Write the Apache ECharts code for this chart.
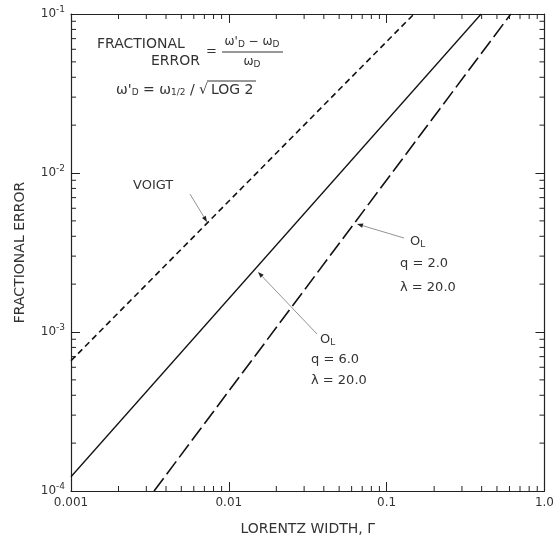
<!DOCTYPE html>
<html>
<head>
<meta charset="utf-8">
<script src="https://cdn.jsdelivr.net/npm/echarts@6/dist/echarts.min.js"></script>
<style>
  html, body { margin: 0; background: #fff; }
  #main { width: 557px; height: 541px; }
</style>
</head>
<body>
<div id="main"></div>
<script>
// values (log-log, straight lines -> endpoints)
const voigtX = [0.001, 0.149];
const voigtY = [0.00066, 0.1];
const solidX = [0.001, 0.397];   // q = 6.0, lambda = 20.0
const solidY = [0.000123, 0.1];
const dashX = [0.00336, 0.612];  // q = 2.0, lambda = 20.0
const dashY = [0.0001, 0.1];

const xTickLabels = { "-3": "0.001", "-2": "0.01", "-1": "0.1", "0": "1.0" };
const yTickExp = { "-4": "-4", "-3": "-3", "-2": "-2", "-1": "-1" };

// minor tick positions 2..9 per decade
const xMinor = [];
const yMinor = [];
[-3, -2, -1].forEach(function (k) {
  for (let m = 2; m <= 9; m++) xMinor.push(m * Math.pow(10, k));
});
[-4, -3, -2].forEach(function (k) {
  for (let m = 2; m <= 9; m++) yMinor.push(m * Math.pow(10, k));
});

const font = "DejaVu Sans";
const ink = "#222";
const txt = "#333";

function pairs(xs, ys) {
  return xs.map(function (x, i) { return [x, ys[i]]; });
}

function arrow(x1, y1, x2, y2) {
  // thin leader line with small head at (x2, y2)
  const a = Math.atan2(y2 - y1, x2 - x1);
  const L = 6, W = 2.2;
  const bx = x2 - L * Math.cos(a), by = y2 - L * Math.sin(a);
  return [
    { type: "line", shape: { x1: x1, y1: y1, x2: bx, y2: by }, style: { stroke: "#777", lineWidth: 0.8 } },
    { type: "polygon", shape: { points: [[x2, y2], [bx + W * Math.sin(a), by - W * Math.cos(a)], [bx - W * Math.sin(a), by + W * Math.cos(a)]] }, style: { fill: "#222" } }
  ];
}

const sup = { fontSize: 9, fontFamily: font, color: txt, padding: [0, 0, 8, 0] };

function label(x, y, text, opts) {
  return {
    type: "text", x: x, y: y,
    style: Object.assign({
      text: text, fontFamily: font, fontSize: 13, fill: txt,
      verticalAlign: "middle",
      rich: { s: { fontSize: 9, fontFamily: font, fill: txt, verticalAlign: "bottom", padding: [6, 0, 0, 0] } }
    }, opts || {})
  };
}

const chart = echarts.init(document.getElementById("main"));

const tickStyle = { show: true, inside: true, length: 9, lineStyle: { color: ink, width: 1 } };

const option = {
  animation: false,
  backgroundColor: "#fff",
  grid: { left: 71, right: 8, top: 14, bottom: 50, containLabel: false },
  xAxis: [
    {
      type: "log", logBase: 10, min: 0.001, max: 1, position: "bottom",
      name: "LORENTZ WIDTH, Γ", nameLocation: "middle", nameGap: 31,
      nameTextStyle: { fontFamily: font, fontSize: 14, color: txt },
      axisLine: { show: true, lineStyle: { color: ink, width: 1.2 } },
      axisTick: tickStyle,
      splitLine: { show: false },
      axisLabel: {
        fontFamily: font, fontSize: 12, color: txt, margin: 6,
        formatter: function (v) { return xTickLabels[String(Math.round(Math.log10(v)))] || ""; }
      }
    },
    {
      type: "log", logBase: 10, min: 0.001, max: 1, position: "top",
      axisLine: { show: true, lineStyle: { color: ink, width: 1.2 } },
      axisTick: tickStyle, axisLabel: { show: false }, splitLine: { show: false }
    }
  ],
  yAxis: [
    {
      type: "log", logBase: 10, min: 0.0001, max: 0.1, position: "left",
      name: "FRACTIONAL ERROR", nameLocation: "middle", nameGap: 44, nameRotate: 90,
      nameTextStyle: { fontFamily: font, fontSize: 14, color: txt },
      axisLine: { show: true, lineStyle: { color: ink, width: 1.2 } },
      axisTick: tickStyle,
      splitLine: { show: false },
      axisLabel: {
        fontFamily: font, fontSize: 12, color: txt, margin: 6,
        formatter: function (v) {
          const e = yTickExp[String(Math.round(Math.log10(v)))];
          return e ? "10{sup|" + e + "}" : "";
        },
        rich: { sup: sup }
      }
    },
    {
      type: "log", logBase: 10, min: 0.0001, max: 0.1, position: "right",
      axisLine: { show: true, lineStyle: { color: ink, width: 1.2 } },
      axisTick: tickStyle, axisLabel: { show: false }, splitLine: { show: false }
    }
  ],
  series: [
    {
      name: "VOIGT", type: "line", data: pairs(voigtX, voigtY), symbol: "none",
      lineStyle: { color: "#111", width: 1.6, type: [6, 4] }
    },
    {
      name: "q = 6.0", type: "line", data: pairs(solidX, solidY), symbol: "none",
      lineStyle: { color: "#111", width: 1.3 }
    },
    {
      name: "q = 2.0", type: "line", data: pairs(dashX, dashY), symbol: "none",
      lineStyle: { color: "#111", width: 1.6, type: [16, 5] }
    },
    {
      // minor ticks on bottom and top
      type: "custom", silent: true, clip: false,
      data: xMinor.map(function (v) { return [v, 0.001]; }),
      renderItem: function (params, api) {
        const v = api.value(0);
        const b = api.coord([v, 0.0001]);
        const t = api.coord([v, 0.1]);
        return {
          type: "group", children: [
            { type: "line", shape: { x1: b[0], y1: b[1], x2: b[0], y2: b[1] - 5 }, style: { stroke: ink, lineWidth: 1 } },
            { type: "line", shape: { x1: t[0], y1: t[1], x2: t[0], y2: t[1] + 5 }, style: { stroke: ink, lineWidth: 1 } }
          ]
        };
      }
    },
    {
      // minor ticks on left and right
      type: "custom", silent: true, clip: false,
      data: yMinor.map(function (v) { return [0.01, v]; }),
      renderItem: function (params, api) {
        const v = api.value(1);
        const l = api.coord([0.001, v]);
        const r = api.coord([1, v]);
        return {
          type: "group", children: [
            { type: "line", shape: { x1: l[0], y1: l[1], x2: l[0] + 5, y2: l[1] }, style: { stroke: ink, lineWidth: 1 } },
            { type: "line", shape: { x1: r[0], y1: r[1], x2: r[0] - 5, y2: r[1] }, style: { stroke: ink, lineWidth: 1 } }
          ]
        };
      }
    }
  ],
  graphic: [
    // definition formula, top left
    label(97, 44, "FRACTIONAL", { fontSize: 14 }),
    label(200, 61, "ERROR", { align: "right", fontSize: 14 }),
    label(206, 52, "="),
    label(252, 42, "ω'{s|D} − ω{s|D}", { align: "center", fontSize: 12 }),
    { type: "line", shape: { x1: 222, y1: 52, x2: 283, y2: 52 }, style: { stroke: txt, lineWidth: 1 } },
    label(252, 62, "ω{s|D}", { align: "center", fontSize: 12 }),
    label(208, 90, "ω'{s|D} = ω{s|1/2} / √", { align: "right", fontSize: 14 }),
    label(211, 90, "LOG 2", { fontSize: 14 }),
    { type: "line", shape: { x1: 207, y1: 81, x2: 256, y2: 81 }, style: { stroke: txt, lineWidth: 1 } },

    // VOIGT label
    label(133, 186, "VOIGT"),
    ...arrow(190, 194, 207, 222),

    // q = 2.0 curve label
    label(410, 242, "O{s|L}"),
    label(400, 264, "q = 2.0"),
    label(400, 288, "λ = 20.0"),
    ...arrow(404, 238, 357, 224),

    // q = 6.0 curve label
    label(320, 340, "O{s|L}"),
    label(311, 360, "q = 6.0"),
    label(311, 381, "λ = 20.0"),
    ...arrow(317, 334, 258, 272)
  ]
};

chart.setOption(option);
</script>
</body>
</html>
